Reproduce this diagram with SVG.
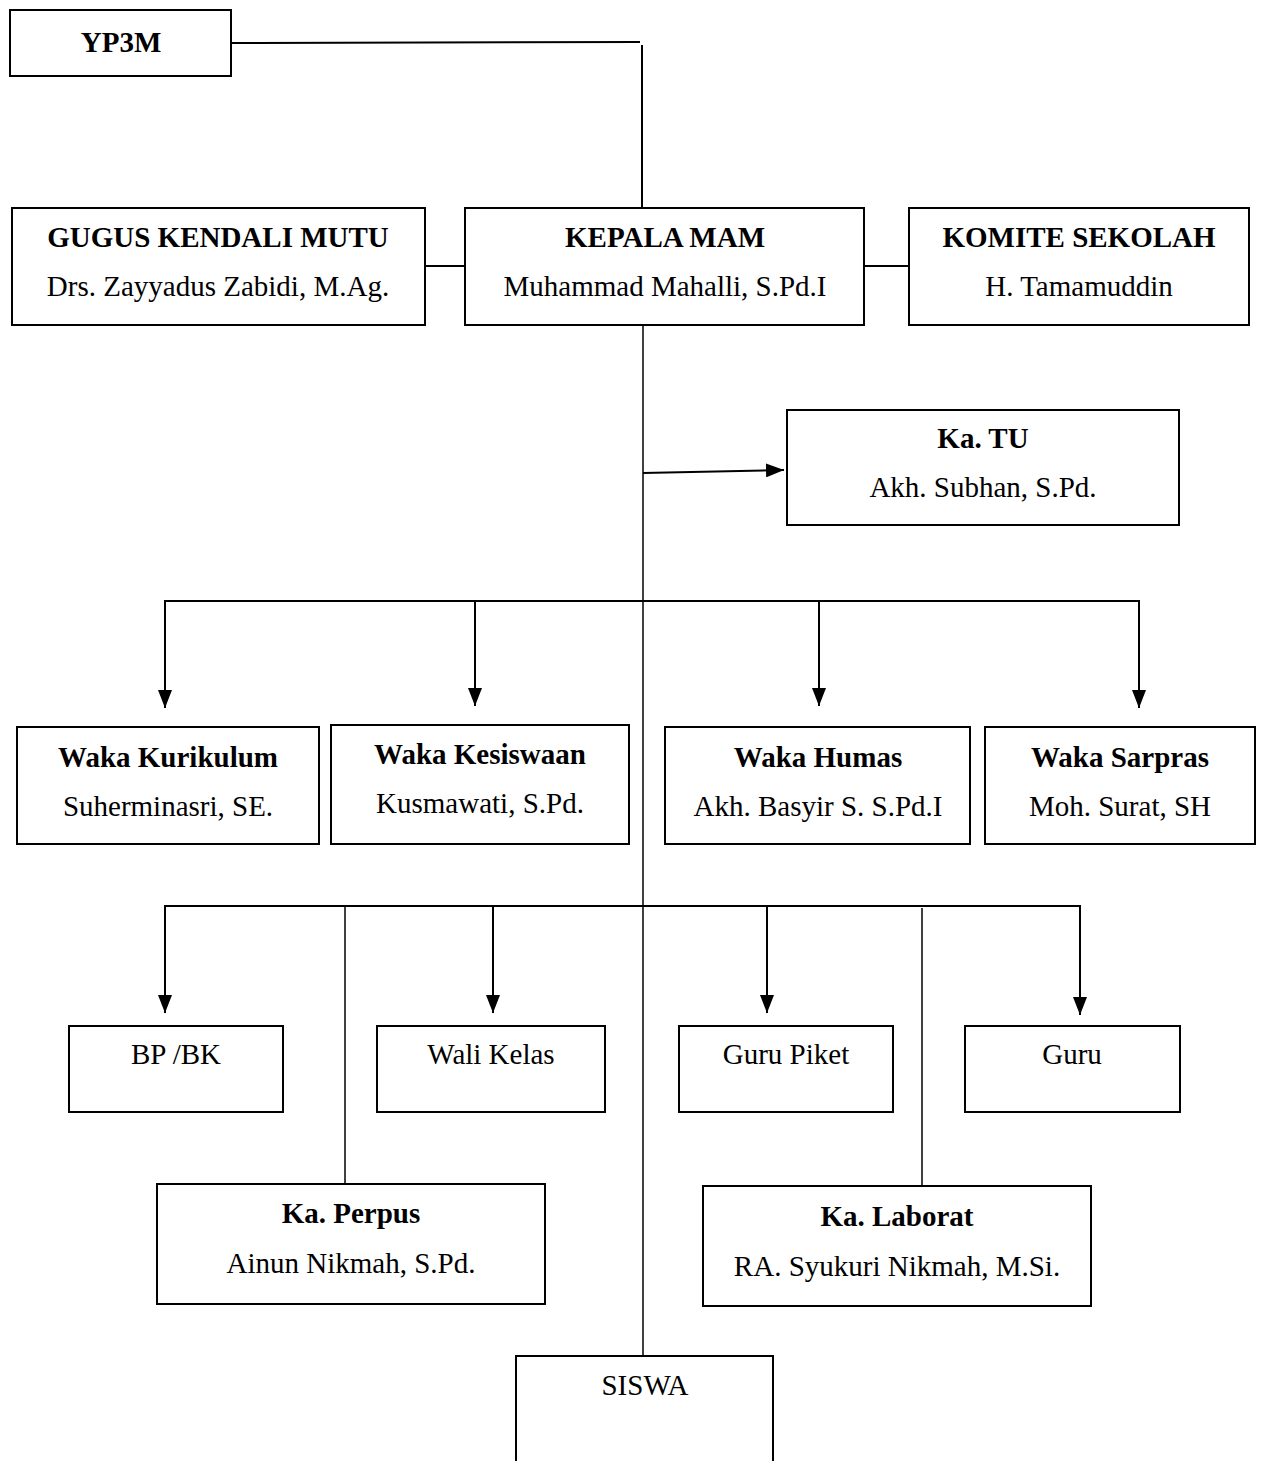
<svg xmlns="http://www.w3.org/2000/svg" width="1261" height="1461" viewBox="0 0 1261 1461">
<style>
.box{fill:#fff;stroke:#000;stroke-width:2}
.t{font-family:"Liberation Serif","Times New Roman",serif;font-size:29px;font-weight:bold;text-anchor:middle;fill:#000}
.s{font-family:"Liberation Serif","Times New Roman",serif;font-size:29px;text-anchor:middle;fill:#000}
.c{fill:none;stroke:#000;stroke-width:2}
.thin{fill:none;stroke:#000;stroke-width:1.5}
</style>
<defs>
<marker id="arrd" markerUnits="userSpaceOnUse" markerWidth="20" markerHeight="14" viewBox="0 0 20 14" refX="18" refY="7" orient="auto">
<path d="M0,0 L18,7 L0,14 Z" fill="#000"/>
</marker>
</defs>
<g id="connectors">
<polyline class="c" points="231,43 640,42"/>
<line class="c" x1="642" y1="45" x2="642" y2="208"/>
<line class="c" x1="425" y1="266" x2="465" y2="266"/>
<line class="c" x1="864" y1="266" x2="909" y2="266"/>
<line class="thin" x1="643" y1="325" x2="643" y2="1356"/>
<line class="c" x1="643" y1="473" x2="784" y2="470" marker-end="url(#arrd)"/>
<line class="c" x1="164" y1="601" x2="1140" y2="601"/>
<line class="c" x1="165" y1="601" x2="165" y2="708" marker-end="url(#arrd)"/>
<line class="c" x1="475" y1="601" x2="475" y2="706" marker-end="url(#arrd)"/>
<line class="c" x1="819" y1="601" x2="819" y2="706" marker-end="url(#arrd)"/>
<line class="c" x1="1139" y1="601" x2="1139" y2="708" marker-end="url(#arrd)"/>
<line class="c" x1="164" y1="906" x2="1081" y2="906"/>
<line class="c" x1="165" y1="906" x2="165" y2="1013" marker-end="url(#arrd)"/>
<line class="c" x1="493" y1="906" x2="493" y2="1013" marker-end="url(#arrd)"/>
<line class="c" x1="767" y1="906" x2="767" y2="1013" marker-end="url(#arrd)"/>
<line class="c" x1="1080" y1="906" x2="1080" y2="1015" marker-end="url(#arrd)"/>
<line class="thin" x1="345" y1="906" x2="345" y2="1184"/>
<line class="thin" x1="922" y1="908" x2="922" y2="1186"/>
</g>
<g id="yp3m"><rect class="box" x="10" y="10" width="221" height="66"/><text class="t" x="121" y="52">YP3M</text></g>
<g id="gugus"><rect class="box" x="12" y="208" width="413" height="117"/><text class="t" x="218" y="247">GUGUS KENDALI MUTU</text><text class="s" x="218" y="296">Drs. Zayyadus Zabidi, M.Ag.</text></g>
<g id="kepala"><rect class="box" x="465" y="208" width="399" height="117"/><text class="t" x="665" y="247">KEPALA MAM</text><text class="s" x="665" y="296">Muhammad Mahalli, S.Pd.I</text></g>
<g id="komite"><rect class="box" x="909" y="208" width="340" height="117"/><text class="t" x="1079" y="247">KOMITE SEKOLAH</text><text class="s" x="1079" y="296">H. Tamamuddin</text></g>
<g id="katu"><rect class="box" x="787" y="410" width="392" height="115"/><text class="t" x="983" y="448">Ka. TU</text><text class="s" x="983" y="497">Akh. Subhan, S.Pd.</text></g>
<g id="kurikulum"><rect class="box" x="17" y="727" width="302" height="117"/><text class="t" x="168" y="767">Waka Kurikulum</text><text class="s" x="168" y="816">Suherminasri, SE.</text></g>
<g id="kesiswaan"><rect class="box" x="331" y="725" width="298" height="119"/><text class="t" x="480" y="764">Waka Kesiswaan</text><text class="s" x="480" y="813">Kusmawati, S.Pd.</text></g>
<g id="humas"><rect class="box" x="665" y="727" width="305" height="117"/><text class="t" x="818" y="767">Waka Humas</text><text class="s" x="818" y="816">Akh. Basyir S. S.Pd.I</text></g>
<g id="sarpras"><rect class="box" x="985" y="727" width="270" height="117"/><text class="t" x="1120" y="767">Waka Sarpras</text><text class="s" x="1120" y="816">Moh. Surat, SH</text></g>
<g id="bpbk"><rect class="box" x="69" y="1026" width="214" height="86"/><text class="s" x="176" y="1064">BP /BK</text></g>
<g id="walikelas"><rect class="box" x="377" y="1026" width="228" height="86"/><text class="s" x="491" y="1064">Wali Kelas</text></g>
<g id="gurupiket"><rect class="box" x="679" y="1026" width="214" height="86"/><text class="s" x="786" y="1064">Guru Piket</text></g>
<g id="guru"><rect class="box" x="965" y="1026" width="215" height="86"/><text class="s" x="1072" y="1064">Guru</text></g>
<g id="kaperpus"><rect class="box" x="157" y="1184" width="388" height="120"/><text class="t" x="351" y="1223">Ka. Perpus</text><text class="s" x="351" y="1273">Ainun Nikmah, S.Pd.</text></g>
<g id="kalaborat"><rect class="box" x="703" y="1186" width="388" height="120"/><text class="t" x="897" y="1226">Ka. Laborat</text><text class="s" x="897" y="1276">RA. Syukuri Nikmah, M.Si.</text></g>
<g id="siswa"><path class="box" d="M516,1470 L516,1356 L773,1356 L773,1470"/><text class="s" x="645" y="1395">SISWA</text></g>
</svg>
